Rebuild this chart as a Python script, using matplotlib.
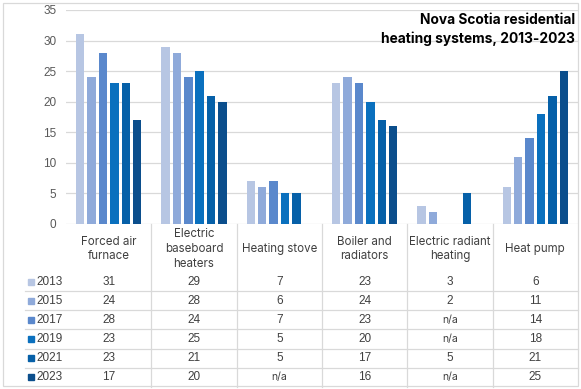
import matplotlib
matplotlib.use("Agg")
import matplotlib.pyplot as plt
import numpy as np
from matplotlib.transforms import blended_transform_factory
from matplotlib.patches import Rectangle
from matplotlib.lines import Line2D

# ---- data ----
categories = ["Forced air\nfurnace", "Electric\nbaseboard\nheaters", "Heating stove",
              "Boiler and\nradiators", "Electric radiant\nheating", "Heat pump"]
years = ["2013", "2015", "2017", "2019", "2021", "2023"]
v2013 = [31, 29, 7, 23, 3, 6]
v2015 = [24, 28, 6, 24, 2, 11]
v2017 = [28, 24, 7, 23, None, 14]
v2019 = [23, 25, 5, 20, None, 18]
v2021 = [23, 21, 5, 17, 5, 21]
v2023 = [17, 20, None, 16, None, 25]
series = [v2013, v2015, v2017, v2019, v2021, v2023]
yticks = [0, 5, 10, 15, 20, 25, 30, 35]
title = "Nova Scotia residential\nheating systems, 2013-2023"

colors = ["#B7C6E3", "#8FAADA", "#5A88CC", "#0A70BE", "#0660A8", "#0B4E8C"]

plt.rcParams['font.family'] = ['Inter', 'DejaVu Sans']

W, H = 581, 389
fig = plt.figure(figsize=(W / 100, H / 100), dpi=100)
fig.patch.set_facecolor("white")

# main axes
x0, x1 = 66, 578
ytop, ybot = 10, 224
ax = fig.add_axes([x0 / W, (H - ybot) / H, (x1 - x0) / W, (ybot - ytop) / H])
ax.set_xlim(-0.5, 5.5)
ax.set_ylim(0, 35)
ax.set_yticks(yticks)
ax.set_xticks([])
for s in ax.spines.values():
    s.set_visible(False)
ax.grid(axis="y", color="#D9D9D9", linewidth=0.9)
ax.set_axisbelow(True)
ax.tick_params(axis="y", length=0, pad=7, labelsize=8.5, labelcolor="#595959")
for lab in ax.get_yticklabels():
    lab.set_fontfamily(['Liberation Sans', 'DejaVu Sans'])

xs = np.arange(len(categories))
step, bw = 0.133, 0.098
for i, (vals, c) in enumerate(zip(series, colors)):
    v = np.array([np.nan if q is None else q for q in vals], dtype=float)
    ax.bar(xs + (i - 2.5) * step, v, width=bw, color=c, zorder=3)

ax.text(0.994, 0.985, title, transform=ax.transAxes, ha="right", va="top",
        fontsize=9.9, fontweight="bold", color="#000000", linespacing=1.4)

# table axes
tb = 387
tax = fig.add_axes([x0 / W, (H - tb) / H, (x1 - x0) / W, (tb - ybot) / H])
tax.set_xlim(-0.5, 5.5)
tax.set_ylim(8.5, 0)
tax.axis("off")

gc = "#D9D9D9"
for k in range(1, len(categories)):
    tax.plot([k - 0.5, k - 0.5], [0, 8.5], color=gc, lw=0.9, clip_on=False)
tr = blended_transform_factory(fig.transFigure, tax.transData)
for j in range(1, len(years)):
    y = 2.5 + j
    fig.add_artist(Line2D([25 / W, 578 / W], [y, y], transform=tr, color=gc, lw=0.9))

tcol = "#404040"
for k, cat in enumerate(categories):
    tax.text(k, 1.3, cat, ha="center", va="center", fontsize=8.3, color=tcol,
             linespacing=1.3)
for j, (yr, vals, c) in enumerate(zip(years, series, colors)):
    y = 3.0 + j
    for k, q in enumerate(vals):
        if q is None:
            tax.text(k, y, "n/a", ha="center", va="center", fontsize=7.5, color=tcol)
        else:
            tax.text(k, y, str(q), ha="center", va="center", fontsize=8.5, color=tcol,
                     family=['Liberation Sans', 'DejaVu Sans'])
    fig.add_artist(Line2D([31 / W], [y], transform=tr, marker="s", markersize=4.4,
                          color=c, linestyle="none"))
    fig.text(36 / W, y, yr, transform=tr, ha="left", va="center", fontsize=8.5,
             color=tcol, family=['Liberation Sans', 'DejaVu Sans'])

# outer border
fig.add_artist(Rectangle((3 / W, (H - 386) / H), (578 - 3) / W, (386 - 3) / H,
                         transform=fig.transFigure, fill=False, edgecolor=gc, lw=0.9))

fig.savefig("out.png", dpi=100)
